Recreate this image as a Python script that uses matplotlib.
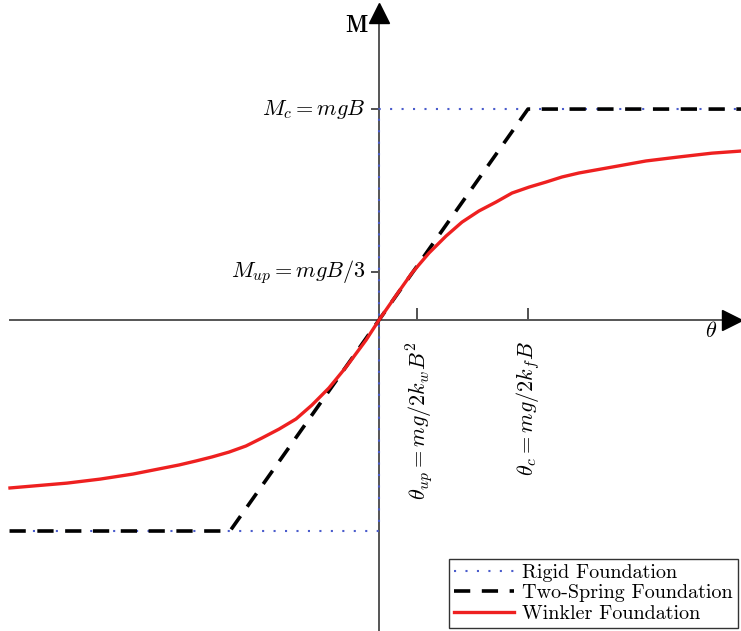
import matplotlib.pyplot as plt

plt.rcParams['mathtext.fontset'] = 'cm'

# values in units of theta_c (x) and M_c (y)
theta_up = 0.255
theta_c = 1.0
M_up = 0.23
M_c = 1.0

rigid_theta = [-2.48, 0.0, 0.0, 2.43]
rigid_M = [-1.0, -1.0, 1.0, 1.0]

spring_theta = [-2.48, -1.0, 1.0, 2.43]
spring_M = [-1.0, -1.0, 1.0, 1.0]

winkler_theta = [-2.477, -2.094, -1.872, -1.651, -1.342, -1.228, -1.121, -1.007,
                 -0.893, -0.785, -0.671, -0.557, -0.450, -0.336, -0.221, -0.087,
                 0.0,
                 0.112, 0.221, 0.336, 0.450, 0.557, 0.671, 0.785, 0.893,
                 1.007, 1.121, 1.228, 1.342, 1.564, 1.792, 2.013, 2.235, 2.430]
winkler_M = [-0.796, -0.773, -0.754, -0.730, -0.687, -0.668, -0.649, -0.626,
             -0.597, -0.559, -0.517, -0.469, -0.403, -0.322, -0.223, -0.095,
             0.0,
             0.114, 0.223, 0.318, 0.398, 0.464, 0.517, 0.559, 0.602,
             0.630, 0.654, 0.678, 0.697, 0.725, 0.754, 0.773, 0.791, 0.801]

fig = plt.figure(figsize=(7.41, 6.31), dpi=100)
ax = fig.add_axes([0, 0, 1, 1])
ax.set_xlim(-2.544, 2.430)
ax.set_ylim(-1.474, 1.517)

# axes through the origin
for s in ['top', 'right']:
    ax.spines[s].set_visible(False)
for s in ['left', 'bottom']:
    ax.spines[s].set_position(('data', 0))
    ax.spines[s].set_color('#555555')
    ax.spines[s].set_linewidth(1.4)
ax.spines['bottom'].set_bounds(-2.48, 2.33)
ax.spines['left'].set_bounds(-1.474, 1.40)

ax.set_xticks([theta_up, theta_c])
ax.set_yticks([M_up, M_c])
ax.set_xticklabels([])
ax.set_yticklabels([])
ax.tick_params(axis='x', direction='in', length=9, width=1.2, color='#333333')
ax.tick_params(axis='y', direction='out', length=6, width=1.2, color='#333333')

# arrow heads
ax.plot(2.37, 0, '>', ms=15, color='k', clip_on=False, zorder=6)
ax.plot(0, 1.455, '^', ms=15, color='k', clip_on=False, zorder=6)

ax.plot(rigid_theta, rigid_M, color='#4a5ccc', lw=1.5, dashes=(1, 4.5),
        label='Rigid Foundation', zorder=3)
ax.plot(spring_theta, spring_M, color='k', lw=2.6, dashes=(4.5, 3.2),
        label='Two-Spring Foundation', zorder=4)
ax.plot(winkler_theta, winkler_M, color='#ee2020', lw=2.4,
        label='Winkler Foundation', zorder=5, solid_joinstyle='round')

fs = 16
ax.text(-0.07, 1.40, r'$\mathbf{M}$', fontsize=17, ha='right', va='center')
ax.text(-0.09, M_c, r'$M_c = mgB$', fontsize=fs, ha='right', va='center')
ax.text(-0.09, M_up, r'$M_{up} = mgB/3$', fontsize=fs, ha='right', va='center')
ax.text(2.23, -0.05, r'$\theta$', fontsize=fs, ha='center', va='center')
ax.text(theta_up + 0.02, -0.10, r'$\theta_{up} = mg/2k_w B^2$', fontsize=fs,
        rotation=90, ha='center', va='top')
ax.text(theta_c + 0.0, -0.10, r'$\theta_c = mg/2k_f B$', fontsize=fs,
        rotation=90, ha='center', va='top')

leg = ax.legend(loc='lower right', bbox_to_anchor=(0.996, 0.005),
                bbox_transform=fig.transFigure, borderaxespad=0,
                fancybox=False, edgecolor='#333333', framealpha=1,
                prop={'family': 'cmr10', 'size': 14.5}, handlelength=3.0,
                labelspacing=0.12, borderpad=0.25, handletextpad=0.4)
leg.get_frame().set_linewidth(1.0)

fig.savefig('out.png', dpi=100)
